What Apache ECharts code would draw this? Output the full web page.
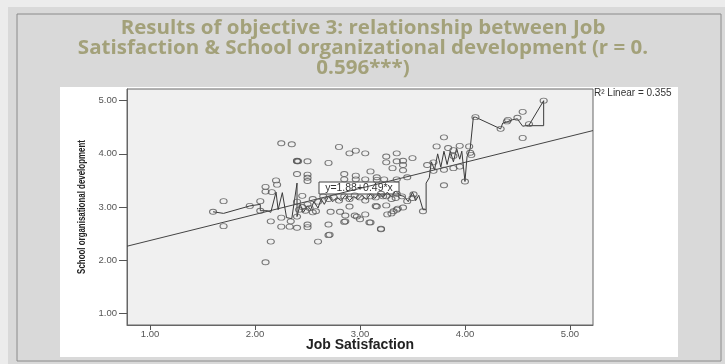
<!DOCTYPE html>
<html>
<head>
<meta charset="utf-8">
<script src="https://cdn.jsdelivr.net/npm/echarts@6/dist/echarts.min.js"></script>
<style>
  html, body { margin: 0; padding: 0; background: #ececec; }
  #main { width: 725px; height: 364px; }
</style>
</head>
<body>
<div id="main"></div>
<script>
// scatter: job satisfaction (x) vs school organisational development (y)
var jobSatisfaction = [
  1.60, 1.70, 1.70, 1.95, 2.05, 2.05, 2.10, 2.10, 2.10, 2.15, 2.15, 2.16, 2.20, 2.21, 2.25, 2.35,
  2.25, 2.25, 2.33, 2.34, 2.40, 2.40, 2.40, 2.40, 2.40, 2.41, 2.40, 2.45, 2.50, 2.50, 2.50, 2.50,
  2.50, 2.50, 2.50, 2.42, 2.45, 2.48, 2.52, 2.55, 2.58,
  2.60, 2.70, 2.70, 2.70, 2.72, 2.80, 2.81, 2.85, 2.85, 2.85, 2.86, 2.90, 2.90, 2.95, 2.96, 2.96,
  2.96, 3.00, 3.05, 3.05, 3.05, 3.10, 3.10, 3.15, 3.16, 3.16, 3.20, 3.20, 3.23, 3.25, 3.25, 3.26,
  3.30, 3.31, 3.35, 3.35, 3.35, 3.35, 3.41, 3.41, 3.41, 3.41, 3.45, 3.45, 3.50, 3.50, 3.51, 3.60,
  2.55, 2.60, 2.65, 2.70, 2.75, 2.80, 2.85, 2.90, 2.95, 3.00, 3.05, 3.10, 3.15, 3.20, 3.25, 3.30,
  3.35, 3.40, 3.22, 3.34, 3.25, 3.32, 3.36, 3.16, 3.09, 2.71, 2.86, 2.97,
  3.64, 3.70, 3.70, 3.73, 3.80, 3.80, 3.80, 3.84, 3.89, 3.89, 3.89, 3.95, 3.95, 4.00, 4.04, 4.06,
  4.05, 4.10, 4.34, 4.40, 4.41, 4.50, 4.55, 4.55, 4.61, 4.75
];
var schoolDevelopment = [
  2.91, 3.11, 2.64, 3.02, 3.11, 2.93, 3.38, 3.29, 1.96, 2.73, 2.35, 3.28, 3.50, 3.42, 4.20, 4.18,
  2.80, 2.63, 2.63, 2.73, 2.61, 2.82, 3.62, 3.86, 3.87, 3.86, 3.10, 3.21, 3.05, 2.67, 2.62, 3.86,
  3.61, 3.55, 3.49, 2.95, 3.00, 2.93, 2.98, 2.90, 2.92,
  2.35, 2.67, 2.47, 3.83, 2.91, 4.13, 2.91, 2.72, 3.62, 3.52, 2.84, 4.01, 3.01, 2.84, 4.06, 3.59,
  3.52, 2.77, 4.01, 3.52, 2.86, 3.67, 2.71, 3.02, 3.56, 3.51, 2.58, 2.59, 3.52, 3.95, 3.84, 2.86,
  2.88, 3.73, 4.01, 3.86, 3.52, 2.95, 3.87, 3.79, 3.69, 2.99, 3.56, 3.11, 3.92, 3.17, 3.24, 2.92,
  3.15, 3.10, 3.20, 3.15, 3.18, 3.12, 3.20, 3.15, 3.22, 3.18, 3.12, 3.20, 3.18, 3.25, 3.20, 3.15,
  3.25, 3.20, 3.20, 3.17, 3.03, 2.92, 2.97, 3.01, 2.71, 2.48, 2.73, 2.82,
  3.79, 3.84, 3.68, 4.14, 4.31, 3.70, 3.41, 4.11, 4.07, 3.73, 3.96, 4.15, 3.76, 3.48, 4.14, 3.98,
  4.02, 4.69, 4.47, 4.61, 4.64, 4.68, 4.79, 4.30, 4.56, 5.00
];

// interpolation line traced through the points
var interpX = [
  1.60, 1.70, 1.95, 2.05, 2.05, 2.12, 2.15, 2.20, 2.22, 2.26, 2.30, 2.35, 2.37, 2.40, 2.40, 2.43,
  2.46, 2.50, 2.53, 2.56, 2.60, 2.63, 2.66, 2.70, 2.74, 2.78, 2.82, 2.86, 2.90, 2.94, 2.98, 3.02,
  3.06, 3.10, 3.14, 3.18, 3.22, 3.26, 3.30, 3.34, 3.38, 3.42, 3.46, 3.50, 3.53, 3.56, 3.60, 3.63,
  3.63, 3.66, 3.68, 3.71, 3.74, 3.77, 3.80, 3.83, 3.86, 3.89, 3.92, 3.95, 3.97, 4.00, 4.02, 4.05,
  4.08, 4.10, 4.34, 4.36, 4.40, 4.45, 4.50, 4.52, 4.55, 4.61, 4.75, 4.75, 4.61
];
var interpY = [
  2.91, 2.88, 3.02, 3.05, 2.93, 2.93, 2.90, 3.28, 2.95, 3.27, 2.80, 2.78, 3.05, 3.45, 2.82, 3.05,
  2.90, 3.02, 2.95, 3.10, 2.98, 3.15, 3.05, 3.20, 3.10, 3.18, 3.12, 3.22, 3.12, 3.20, 3.14, 3.22,
  3.14, 3.24, 3.16, 3.26, 3.18, 3.28, 3.20, 3.30, 3.22, 3.20, 3.10, 3.28, 3.12, 3.22, 2.95, 2.95,
  3.45, 3.55, 3.85, 3.70, 4.00, 3.75, 4.05, 3.80, 4.05, 3.85, 4.10, 3.90, 4.05, 3.48, 3.95, 4.10,
  4.69, 4.69, 4.47, 4.58, 4.60, 4.64, 4.66, 4.60, 4.52, 4.54, 5.00, 4.53, 4.53
];

// linear fit shown on the chart
var fitIntercept = 1.88;
var fitSlope = 0.49;
var axisRange = [0.78, 5.22];
var tickValues = [1, 2, 3, 4, 5];

var pointData = [];
for (var i = 0; i < jobSatisfaction.length; i++) {
    pointData.push([jobSatisfaction[i], schoolDevelopment[i]]);
}
var interpData = [];
for (var j = 0; j < interpX.length; j++) {
    interpData.push([interpX[j], interpY[j]]);
}
var fitData = [
    [axisRange[0], fitIntercept + fitSlope * axisRange[0]],
    [axisRange[1], fitIntercept + fitSlope * axisRange[1]]
];

var axisFont = 'Liberation Sans, Arial, sans-serif';
var myChart = echarts.init(document.getElementById('main'));
var option = {
    animation: false,
    backgroundColor: '#ececec',
    graphic: [
        // slide panel
        { type: 'rect', z: -10, shape: { x: 8, y: 7, width: 717, height: 357 }, style: { fill: '#d9d9d9' } },
        { type: 'rect', z: -9, shape: { x: 17, y: 14, width: 704, height: 347 }, style: { fill: 'none', stroke: '#8a8a8a', lineWidth: 1 } },
        { type: 'rect', z: -8, shape: { x: 60, y: 87, width: 618, height: 270 }, style: { fill: '#ffffff' } },
        {
            // slide title, widened a little like the original font
            type: 'text', x: 363, y: 19, scaleX: 1.08, z: 10,
            style: {
                text: 'Results of objective 3: relationship between Job\nSatisfaction & School organizational development (r = 0.\n0.596***)',
                font: 'bold 19px "Open Sans", Lato, sans-serif',
                fill: '#a3a17a', align: 'center', lineHeight: 20
            }
        },
        // y axis title, narrowed like the original
        {
            type: 'text', x: 82, y: 207, rotation: Math.PI / 2, scaleX: 0.72, z: 10,
            style: {
                text: 'School organisational development',
                font: 'bold 11px ' + axisFont, fill: '#222',
                align: 'center', verticalAlign: 'middle'
            }
        },
        {
            type: 'text', x: 594, y: 88, z: 10,
            style: { text: 'R² Linear = 0.355', font: '10px ' + axisFont, fill: '#333' }
        },
        {
            type: 'group', x: 319, y: 182, z: 20,
            children: [
                { type: 'rect', shape: { x: 0, y: 0, width: 80, height: 12 }, style: { fill: '#fff', stroke: '#444', lineWidth: 1 } },
                { type: 'text', x: 40, y: 6.5, style: { text: 'y=1.88+0.49*x', font: '10.5px ' + axisFont, fill: '#333', align: 'center', verticalAlign: 'middle' } }
            ]
        }
    ],
    grid: {
        left: 127, top: 89, width: 466, height: 236,
        show: true, backgroundColor: '#f0f0f0', borderColor: '#666', borderWidth: 1
    },
    xAxis: {
        type: 'value', min: axisRange[0], max: axisRange[1],
        name: 'Job Satisfaction', nameLocation: 'middle', nameGap: 13, nameMoveOverlap: false,
        nameTextStyle: { fontFamily: axisFont, fontWeight: 'bold', fontSize: 14, color: '#222' },
        axisLine: { show: true, lineStyle: { color: '#666' } },
        axisTick: { show: true, customValues: tickValues, length: 5, lineStyle: { color: '#555' } },
        axisLabel: {
            customValues: tickValues, margin: 4, fontSize: 9.5, fontFamily: axisFont, color: '#555',
            formatter: function (v) { return v.toFixed(2); }
        },
        splitLine: { show: false }
    },
    yAxis: {
        type: 'value', min: axisRange[0], max: axisRange[1],
        axisLine: { show: true, lineStyle: { color: '#666' } },
        axisTick: { show: true, customValues: tickValues, length: 8, lineStyle: { color: '#555' } },
        axisLabel: {
            customValues: tickValues, margin: 10, fontSize: 9.5, fontFamily: axisFont, color: '#555',
            formatter: function (v) { return v.toFixed(2); }
        },
        splitLine: { show: false }
    },
    series: [
        {
            name: 'fit', type: 'line', data: fitData, symbol: 'none', silent: true,
            lineStyle: { color: '#444', width: 1 }, z: 3
        },
        {
            name: 'interpolation', type: 'line', data: interpData, symbol: 'none', silent: true,
            lineStyle: { color: '#3a3a3a', width: 1 }, z: 4
        },
        {
            name: 'points', type: 'scatter', data: pointData,
            symbol: 'circle', symbolSize: [7, 5],
            itemStyle: { color: 'rgba(0,0,0,0)', borderColor: '#555', borderWidth: 1 }, z: 5
        }
    ]
};
myChart.setOption(option);
</script>
</body>
</html>
